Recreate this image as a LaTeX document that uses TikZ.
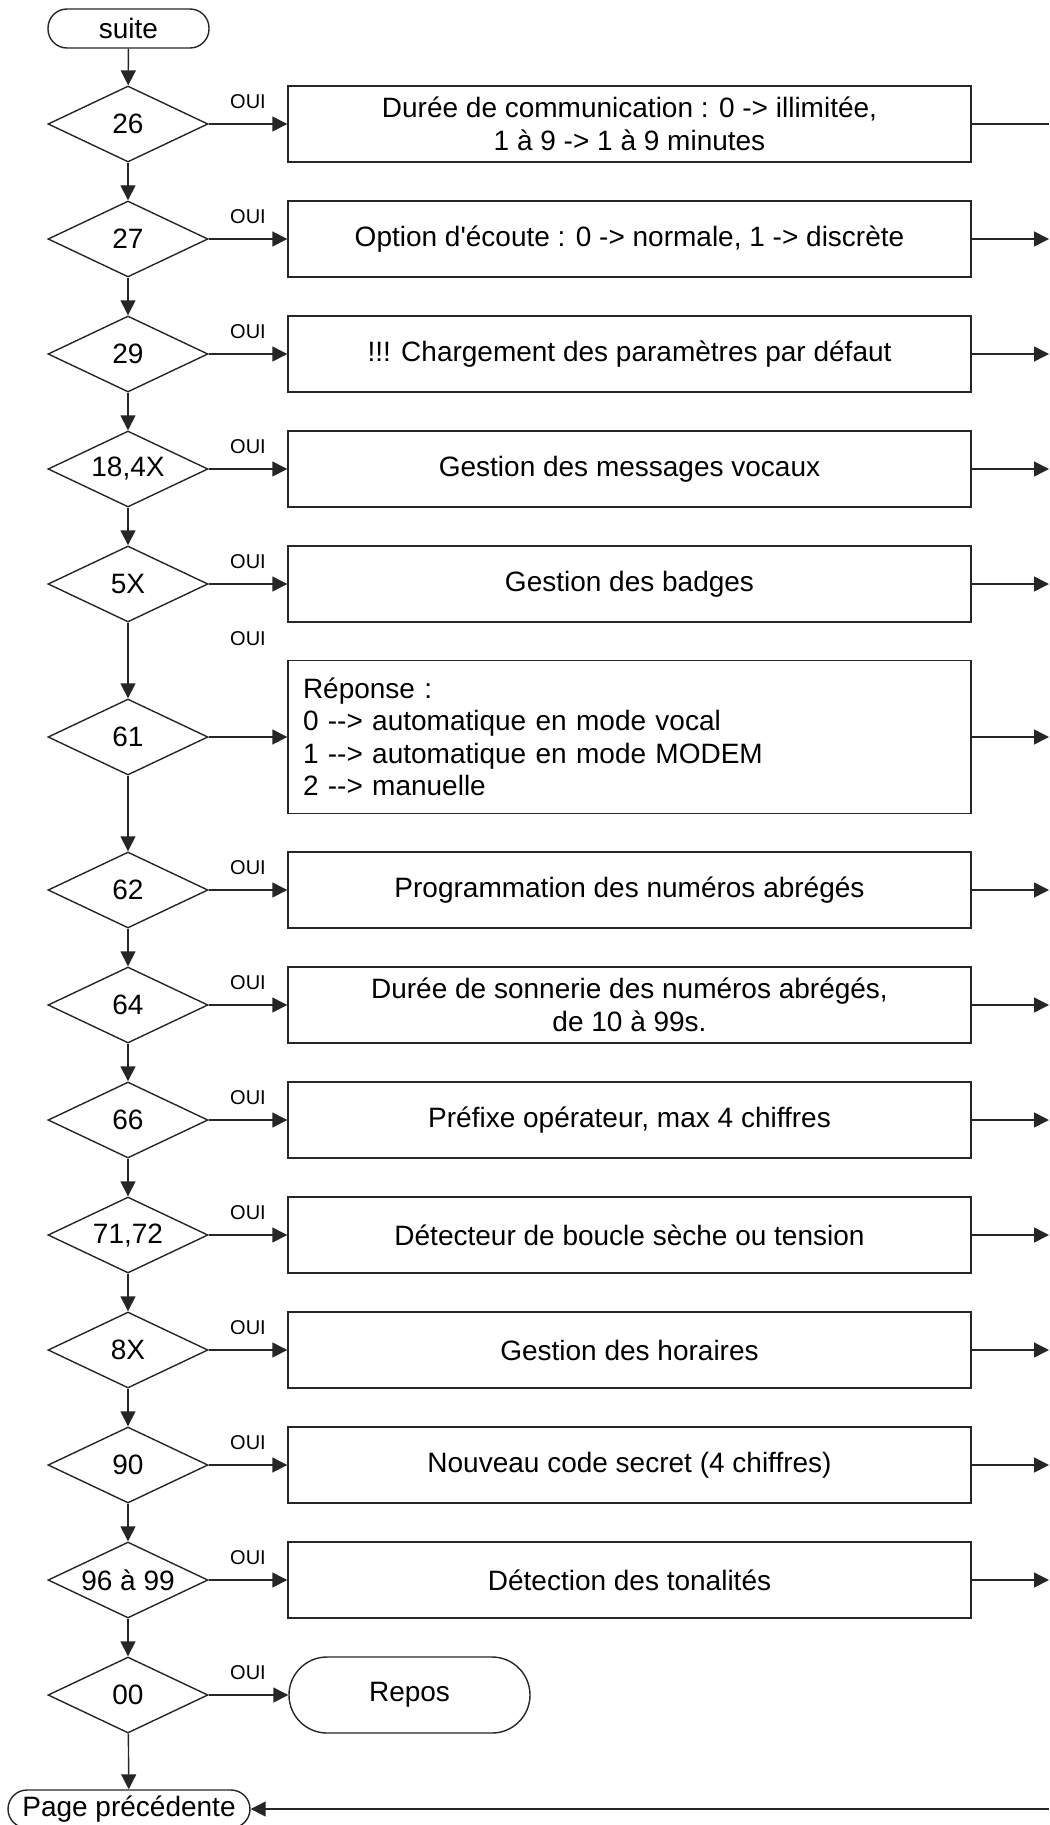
\documentclass[tikz,border=0pt]{standalone}
\usepackage{fontspec}
\setmainfont{Liberation Sans}[Ligatures=TeXOff]
\usetikzlibrary{shapes.geometric,arrows.meta}
\begin{document}
\begin{tikzpicture}[x=1pt,y=-1pt,
  every node/.style={font=\fontsize{28}{32.5}\selectfont, text=black},
  ln/.style={line width=1.4pt, draw=black!85},
  arr/.style={ln, -{Triangle[length=15pt,width=15pt]}},
  dec/.style={diamond, ln, minimum width=160pt, minimum height=76pt, inner sep=0pt, label={center:#1}},
  actbox/.style={rectangle, ln, minimum width=683pt, minimum height=76pt, align=center, inner sep=0pt},
  term/.style={rectangle, ln, inner sep=0pt},
  oui/.style={font=\fontsize{20}{24}\selectfont, inner sep=0pt}
]
\useasboundingbox (0,0) rectangle (1049,1825);

% terminals
\node[term, minimum width=161pt, minimum height=39pt, rounded corners=19pt] (suite) at (128.5,28.5) {suite};
\node[term, minimum width=242pt, minimum height=38pt, rounded corners=19pt] (page) at (129,1809) {Page précédente};

% decisions
\node[dec=26] (d26) at (128,124) {};
\node[dec=27] (d27) at (128,239) {};
\node[dec=29] (d29) at (128,354) {};
\node[dec={18,4X}] (d18) at (128,469) {};
\node[dec=5X] (d5x) at (128,584) {};
\node[dec=61] (d61) at (128,737) {};
\node[dec=62] (d62) at (128,890) {};
\node[dec=64] (d64) at (128,1005) {};
\node[dec=66] (d66) at (128,1120) {};
\node[dec={71,72}] (d71) at (128,1235) {};
\node[dec=8X] (d8x) at (128,1350) {};
\node[dec=90] (d90) at (128,1465) {};
\node[dec={96 à 99}] (d96) at (128,1580) {};
\node[dec=00] (d00) at (128,1695) {};

% action boxes
\node[actbox] (b26) at (629.5,124) {Durée de communication : 0 -> illimitée,\\1 à 9 -> 1 à 9 minutes};
\node[actbox] (b27) at (629.5,239) {Option d'écoute : 0 -> normale, 1 -> discrète};
\node[actbox] (b29) at (629.5,354) {!!! Chargement des paramètres par défaut};
\node[actbox] (b18) at (629.5,469) {Gestion des messages vocaux};
\node[actbox] (b5x) at (629.5,584) {Gestion des badges};
\node[rectangle, ln, minimum height=153pt, text width=653pt, inner xsep=15pt, inner ysep=0pt, align=left] (b61) at (629.5,737)
  {Réponse :\\0 -{}-> automatique en mode vocal\\1 -{}-> automatique en mode MODEM\\2 -{}-> manuelle};
\node[actbox] (b62) at (629.5,890) {Programmation des numéros abrégés};
\node[actbox] (b64) at (629.5,1005) {Durée de sonnerie des numéros abrégés,\\de 10 à 99s.};
\node[actbox] (b66) at (629.5,1120) {Préfixe opérateur, max 4 chiffres};
\node[actbox] (b71) at (629.5,1235) {Détecteur de boucle sèche ou tension};
\node[actbox] (b8x) at (629.5,1350) {Gestion des horaires};
\node[actbox] (b90) at (629.5,1465) {Nouveau code secret (4 chiffres)};
\node[actbox] (b96) at (629.5,1580) {Détection des tonalités};
\node[term, minimum width=241pt, minimum height=76pt, rounded corners=38pt] (repos) at (409.5,1695) {Repos};

% OUI labels
\foreach \n/\y in {o26/102, o27/217, o29/332, o18/447, o5x/562, o61/639, o62/868, o64/983, o66/1098, o71/1213, o8x/1328, o90/1443, o96/1558, o00/1673}
  \node[oui] (\n) at (248,\y) {OUI};

% right edge coordinates
\foreach \n/\y in {26/124, 27/239, 29/354, 18/469, 5x/584, 61/737, 62/890, 64/1005, 66/1120, 71/1235, 8x/1350, 90/1465, 96/1580}
  \coordinate (e\n) at (1049,\y);
\coordinate (ebot) at (1049,1809);

% vertical flow
\draw[arr] (suite) -- (d26);
\draw[arr] (d26) -- (d27);
\draw[arr] (d27) -- (d29);
\draw[arr] (d29) -- (d18);
\draw[arr] (d18) -- (d5x);
\draw[arr] (d5x) -- (d61);
\draw[arr] (d61) -- (d62);
\draw[arr] (d62) -- (d64);
\draw[arr] (d64) -- (d66);
\draw[arr] (d66) -- (d71);
\draw[arr] (d71) -- (d8x);
\draw[arr] (d8x) -- (d90);
\draw[arr] (d90) -- (d96);
\draw[arr] (d96) -- (d00);
\draw[arr] (d00) -- (page);

% horizontal to boxes
\foreach \k in {26,27,29,18,5x,61,62,64,66,71,8x,90,96}
  \draw[arr] (d\k.east) -- (b\k.west);
\draw[arr] (d00.east) -- (repos.west);

% to right edge
\draw[ln] (b26.east) -- (e26);
\foreach \k in {27,29,18,5x,61,62,64,66,71,8x,90,96}
  \draw[arr] (b\k.east) -- (e\k);
\draw[arr] (ebot) -- (page.east);
\end{tikzpicture}
\end{document}
